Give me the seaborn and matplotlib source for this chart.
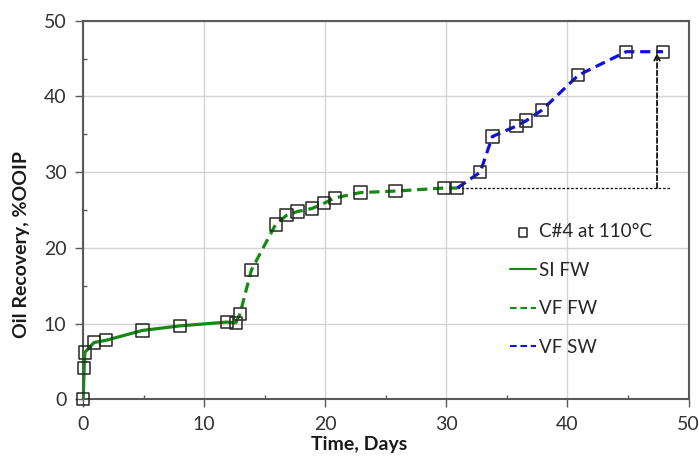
import matplotlib
matplotlib.use("Agg")
import matplotlib.pyplot as plt
import seaborn as sns
import pandas as pd

# ---- data ----
time_days = [0.0, 0.08, 0.14, 0.9, 1.9, 4.9, 8.0, 11.85, 12.6, 12.95, 13.9,
             15.9, 16.8, 17.7, 18.9, 19.9, 20.8, 22.9, 25.8, 29.8, 30.9,
             32.8, 33.8, 35.8, 36.6, 37.9, 40.9, 44.85, 47.9]
recovery = [0.0, 4.1, 6.2, 7.5, 7.8, 9.1, 9.7, 10.2, 10.1, 11.3, 17.1,
            23.1, 24.3, 24.8, 25.2, 25.9, 26.6, 27.3, 27.5, 27.9, 27.9,
            30.0, 34.7, 36.1, 36.8, 38.2, 42.8, 45.9, 45.9]
# phase boundaries (time at which each phase starts / ends)
phase_names = ["SI FW", "VF FW", "VF SW"]
phase_start = [0.0, 12.6, 30.9]
phase_end = [12.6, 30.9, 47.9]
marker_label = "C#4 at 110°C"

# annotation: increment after switching to SW
base_level = 27.9
final_level = 45.9
arrow_x = 47.4
hline_start, hline_end = 30.9, 48.5

x_ticks = [0, 10, 20, 30, 40, 50]
y_ticks = [0, 10, 20, 30, 40, 50]

sns.set_theme(style="white")
plt.rcParams["font.family"] = ["Lato", "DejaVu Sans"]

df = pd.DataFrame({"time": time_days, "rec": recovery})

fig = plt.figure(figsize=(6.99, 4.59), dpi=100)
ax = fig.add_axes([0.119, 0.130, 0.866, 0.825])

colors = ["#138a13", "#138a13", "#1010e0"]
styles = ["-", "--", "--"]
for name, s, e, c, ls in zip(phase_names, phase_start, phase_end, colors, styles):
    seg = df[(df["time"] >= s) & (df["time"] <= e)]
    sns.lineplot(data=seg, x="time", y="rec", ax=ax, color=c, lw=2.3,
                 linestyle=ls, label=name, sort=False, estimator=None, zorder=3)
for l in ax.get_lines():
    if l.get_linestyle() == "--":
        l.set_dashes((3.2, 1.8))

sns.scatterplot(data=df, x="time", y="rec", ax=ax, marker="s", s=78,
                facecolor="none", edgecolor="#262626", linewidth=1.1,
                label=marker_label, zorder=4)
for coll in ax.collections:
    coll.set_clip_on(False)

# annotation lines
ax.plot([hline_start, hline_end], [base_level, base_level], color="black",
        lw=0.9, dashes=(2, 1.5), zorder=2)
ax.annotate("", xy=(arrow_x, final_level - 0.2), xytext=(arrow_x, base_level),
            arrowprops=dict(arrowstyle="->", color="black", lw=1.2,
                            linestyle=(0, (3, 1.5)), shrinkA=0, shrinkB=0,
                            mutation_scale=10), zorder=2)

ax.set_xlim(0, 50)
ax.set_ylim(0, 50)
ax.set_xticks(x_ticks)
ax.set_yticks(y_ticks)
ax.set_xticks([5, 15, 25, 35, 45], minor=True)
ax.set_yticks([5, 15, 25, 35, 45], minor=True)
ax.grid(True, which="major", color="#d4d4d4", lw=1.0)
ax.set_axisbelow(True)

for sp in ax.spines.values():
    sp.set_visible(True)
    sp.set_color("#595959")
    sp.set_linewidth(1.5)

ax.tick_params(which="major", direction="out", length=6, width=1.0,
               color="#595959", labelsize=14, labelcolor="#333333",
               bottom=True, left=True, pad=6)
ax.tick_params(which="minor", direction="in", length=3, width=1.0,
               color="#595959", bottom=True, left=True)

ax.set_xlabel("Time, Days", fontsize=14, fontweight="bold", color="#1a1a1a")
ax.set_ylabel("Oil Recovery, %OOIP", fontsize=14, fontweight="bold", color="#1a1a1a")
ax.xaxis.set_label_coords(0.456, -0.098)
ax.yaxis.set_label_coords(-0.088, 0.41)

handles, labels = ax.get_legend_handles_labels()
order = [labels.index(marker_label)] + [labels.index(n) for n in phase_names]
leg = ax.legend([handles[i] for i in order], [labels[i] for i in order],
                loc="center left", bbox_to_anchor=(510 / 699, 1 - 289.5 / 459),
                bbox_transform=fig.transFigure, frameon=False, fontsize=13.5,
                handlelength=1.4, handletextpad=0.15, labelspacing=1.15,
                borderpad=0, borderaxespad=0, markerscale=0.7)
for t in leg.get_texts():
    t.set_color("#262626")
for h in leg.legend_handles:
    if h.__class__.__name__ == "Line2D":
        h.set_linewidth(1.5)

fig.savefig("out.png", dpi=100)
